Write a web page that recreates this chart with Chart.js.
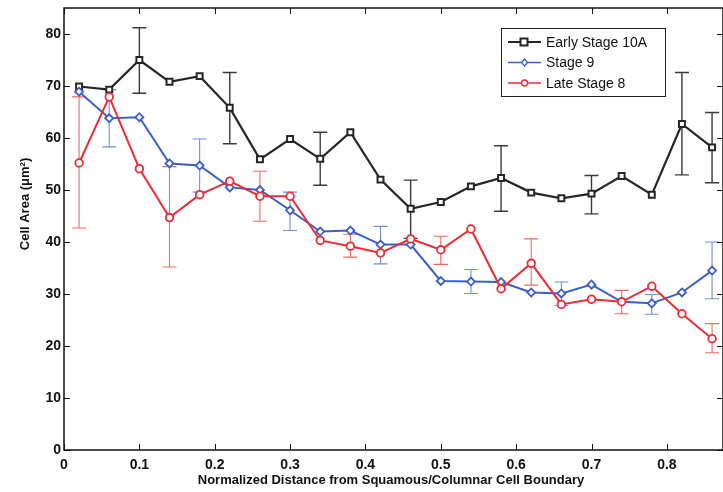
<!DOCTYPE html>
<html>
<head>
<meta charset="utf-8">
<script src="https://cdn.jsdelivr.net/npm/chart.js@4"></script>
<style>
  html, body { margin: 0; padding: 0; background: #fff; overflow: hidden; }
  #wrap { width: 723px; height: 492px; }
</style>
</head>
<body>
<div id="wrap"><canvas id="myChart" width="723" height="492"></canvas></div>
<script>
'use strict';

// distance positions
var xs = [0.02, 0.06, 0.10, 0.14, 0.18, 0.22, 0.26, 0.30, 0.34, 0.38, 0.42,
          0.46, 0.50, 0.54, 0.58, 0.62, 0.66, 0.70, 0.74, 0.78, 0.82, 0.86];

var xTickLabels = [0, 0.1, 0.2, 0.3, 0.4, 0.5, 0.6, 0.7, 0.8];
var yTickLabels = [0, 10, 20, 30, 40, 50, 60, 70, 80];

var seriesNames = ['Early Stage 10A', 'Stage 9', 'Late Stage 8'];

var early = [69.9, 69.3, 75.0, 70.8, 71.9, 65.8, 55.9, 59.8, 56.0, 61.1, 52.0,
             46.4, 47.7, 50.7, 52.3, 49.5, 48.4, 49.3, 52.7, 49.1, 62.7, 58.2];
var earlyHi = [null, null, 81.2, null, null, 72.6, null, null, 61.1, null, null,
               51.9, null, null, 58.5, null, null, 52.8, null, null, 72.6, 64.9];
var earlyLo = [null, null, 68.6, null, null, 58.9, null, null, 50.9, null, null,
               40.7, null, null, 45.9, null, null, 45.4, null, null, 52.9, 51.4];

var stage9 = [68.9, 63.8, 64.0, 55.1, 54.7, 50.5, 50.0, 46.1, 42.0, 42.2, 39.5,
              39.5, 32.5, 32.4, 32.3, 30.3, 30.1, 31.8, 28.5, 28.2, 30.3, 34.5];
var stage9Hi = [null, 69.3, null, null, 59.8, null, null, 49.6, null, null, 43.0,
                null, null, 34.7, null, null, 32.3, null, null, 29.9, null, 40.0];
var stage9Lo = [null, 58.3, null, null, 49.6, null, null, 42.2, null, null, 35.8,
                null, null, 30.1, null, null, 27.8, null, null, 26.1, null, 29.1];

var late8 = [55.2, 67.9, 54.1, 44.7, 49.1, 51.7, 48.8, 48.8, 40.3, 39.2, 37.9,
             40.6, 38.5, 42.5, 31.0, 35.9, 28.0, 29.0, 28.5, 31.5, 26.2, 21.4];
var late8Hi = [67.9, null, null, 54.5, null, null, 53.6, null, null, 41.5, null,
               null, 41.1, null, null, 40.6, null, null, 30.7, null, null, 24.3];
var late8Lo = [42.7, null, null, 35.2, null, null, 44.0, null, null, 37.1, null,
               null, 35.7, null, null, 31.7, null, null, 26.2, null, null, 18.7];

function toPoints(vals) {
    return xs.map(function (x, i) { return { x: x, y: vals[i] }; });
}

var lineColors = ['#262626', '#3a5fc8', '#ee2b36'];
var barColors = ['#3a3a3a', '#6f8ee0', '#ef6a5e'];
var barHi = [earlyHi, stage9Hi, late8Hi];
var barLo = [earlyLo, stage9Lo, late8Lo];
var markers = ['rect', 'rectRot', 'circle'];
var markerSize = [4.2, 4, 3.8];

var tickFont = { family: '"Liberation Sans", Arial, sans-serif', size: 14, weight: 'bold' };

// error bars, frame with inward ticks, axis titles and legend box
var extras = {
    id: 'extras',
    beforeDatasetsDraw: function (chart) {
        var ctx = chart.ctx, xs_ = chart.scales.x, ys_ = chart.scales.y;
        ctx.save();
        for (var d = 0; d < 3; d++) {
            ctx.strokeStyle = barColors[d];
            ctx.lineWidth = d === 0 ? 1.4 : 1.1;
            for (var i = 0; i < xs.length; i++) {
                if (barHi[d][i] == null) continue;
                var px = xs_.getPixelForValue(xs[i]);
                var top = ys_.getPixelForValue(barHi[d][i]);
                var bot = ys_.getPixelForValue(barLo[d][i]);
                ctx.beginPath();
                ctx.moveTo(px, top); ctx.lineTo(px, bot);
                ctx.moveTo(px - 7, top); ctx.lineTo(px + 7, top);
                ctx.moveTo(px - 7, bot); ctx.lineTo(px + 7, bot);
                ctx.stroke();
            }
        }
        ctx.restore();
    },
    afterDraw: function (chart) {
        var ctx = chart.ctx, a = chart.chartArea;
        var xs_ = chart.scales.x, ys_ = chart.scales.y;
        ctx.save();
        ctx.strokeStyle = '#111';
        ctx.lineWidth = 1.5;
        ctx.strokeRect(a.left, a.top, a.right - a.left, a.bottom - a.top);
        ctx.lineWidth = 1;
        ctx.beginPath();
        xTickLabels.forEach(function (v) {
            var px = Math.round(xs_.getPixelForValue(v)) + 0.5;
            ctx.moveTo(px, a.bottom); ctx.lineTo(px, a.bottom - 6);
            ctx.moveTo(px, a.top); ctx.lineTo(px, a.top + 6);
        });
        yTickLabels.forEach(function (v) {
            var py = Math.round(ys_.getPixelForValue(v)) + 0.5;
            ctx.moveTo(a.left, py); ctx.lineTo(a.left + 6, py);
            ctx.moveTo(a.right, py); ctx.lineTo(a.right - 6, py);
        });
        ctx.stroke();

        // axis titles
        ctx.fillStyle = '#111';
        ctx.font = 'bold 13px "Liberation Sans", Arial, sans-serif';
        ctx.textAlign = 'center';
        ctx.textBaseline = 'middle';
        ctx.fillText('Normalized Distance from Squamous/Columnar Cell Boundary', 391, 480);
        ctx.save();
        ctx.translate(25, 204);
        ctx.rotate(-Math.PI / 2);
        ctx.fillText('Cell Area (\u03bcm\u00b2)', 0, 0);
        ctx.restore();

        // legend box
        var lx = 501, ly = 28, lw = 164, lh = 68;
        ctx.fillStyle = '#fff';
        ctx.fillRect(lx, ly, lw, lh);
        ctx.strokeStyle = '#222';
        ctx.lineWidth = 1;
        ctx.strokeRect(lx + 0.5, ly + 0.5, lw, lh);
        ctx.font = '14px "Liberation Sans", Arial, sans-serif';
        ctx.textAlign = 'left';
        for (var d = 0; d < 3; d++) {
            var ey = 42 + d * 20.5;
            ctx.strokeStyle = lineColors[d];
            ctx.lineWidth = d === 0 ? 2 : 1.3;
            ctx.beginPath();
            ctx.moveTo(508, ey); ctx.lineTo(541, ey);
            ctx.stroke();
            ctx.fillStyle = '#fff';
            ctx.beginPath();
            if (d === 0) {
                ctx.rect(520.5, ey - 3.5, 7, 7);
            } else if (d === 1) {
                ctx.moveTo(524.5, ey - 3.5); ctx.lineTo(527.5, ey);
                ctx.lineTo(524.5, ey + 3.5); ctx.lineTo(521.5, ey); ctx.closePath();
            } else {
                ctx.arc(524.5, ey, 3, 0, Math.PI * 2);
            }
            ctx.fill();
            ctx.stroke();
            ctx.fillStyle = '#111';
            ctx.fillText(seriesNames[d], 546, ey + 1);
        }
        ctx.restore();
    }
};

var datasets = [early, stage9, late8].map(function (vals, d) {
    return {
        label: seriesNames[d],
        data: toPoints(vals),
        borderColor: lineColors[d],
        backgroundColor: '#fff',
        borderWidth: d === 0 ? 2.2 : 2,
        pointStyle: markers[d],
        pointRadius: markerSize[d],
        pointBorderWidth: d === 0 ? 2 : 1.8,
        pointBorderColor: lineColors[d],
        pointBackgroundColor: '#fff',
        tension: 0,
        order: 3 - d
    };
});

var config = {
    type: 'line',
    data: { datasets: datasets },
    options: {
        responsive: false,
        animation: false,
        layout: { autoPadding: false, padding: { top: 8, right: -2, left: 0, bottom: 0 } },
        plugins: { legend: { display: false }, tooltip: { enabled: false } },
        scales: {
            x: {
                type: 'linear',
                min: 0,
                max: 0.8745,
                afterBuildTicks: function (scale) {
                    scale.ticks = xTickLabels.map(function (v) { return { value: v }; });
                },
                afterFit: function (scale) {
                    scale.height = 42;
                    scale.paddingLeft = 0;
                    scale.paddingRight = 0;
                },
                grid: { display: false, drawTicks: false },
                border: { display: false },
                ticks: {
                    font: tickFont, color: '#111', padding: 7, autoSkip: false, maxRotation: 0,
                    callback: function (v) { return String(Math.round(v * 10) / 10); }
                }
            },
            y: {
                min: 0,
                max: 85,
                afterBuildTicks: function (scale) {
                    scale.ticks = yTickLabels.map(function (v) { return { value: v }; });
                },
                afterFit: function (scale) {
                    scale.width = 64;
                    scale.paddingTop = 0;
                    scale.paddingBottom = 0;
                },
                grid: { display: false, drawTicks: false },
                border: { display: false },
                ticks: { font: tickFont, color: '#111', padding: 3 }
            }
        }
    },
    plugins: [extras]
};

var ctx = document.getElementById('myChart').getContext('2d');
window.myChart = new Chart(ctx, config);
</script>
</body>
</html>
